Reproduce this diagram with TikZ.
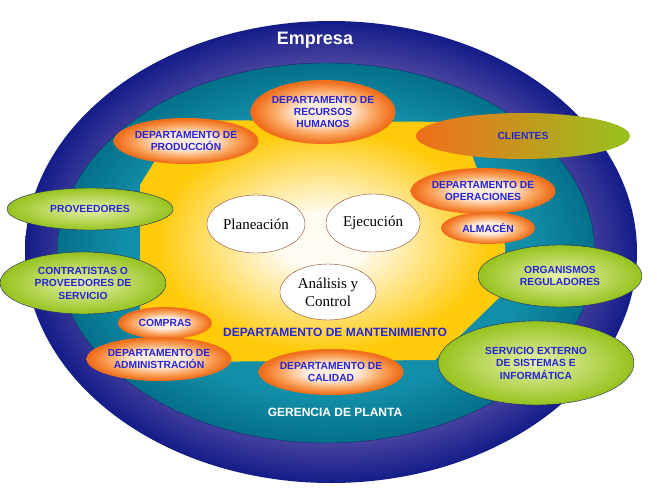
\documentclass[tikz,border=0pt]{standalone}
\usepackage{fontspec}
\setmainfont{Liberation Serif}
\setsansfont{Liberation Sans}
\usetikzlibrary{shapes.geometric, positioning}

\definecolor{ringlight}{RGB}{78,72,162}
\definecolor{ringdark}{RGB}{20,28,136}
\definecolor{teallight}{RGB}{18,142,168}
\definecolor{tealdark}{RGB}{4,112,138}
\definecolor{gold}{RGB}{255,202,8}
\definecolor{cream}{RGB}{255,251,240}
\definecolor{orglight}{RGB}{255,236,222}
\definecolor{orgmid}{RGB}{250,168,98}
\definecolor{orgedge}{RGB}{240,110,28}
\definecolor{grnlight}{RGB}{232,242,172}
\definecolor{grnedge}{RGB}{150,195,30}
\definecolor{navyline}{RGB}{30,36,110}
\definecolor{textblue}{RGB}{38,38,215}
\definecolor{brownline}{RGB}{140,70,40}

% the path edge sits at 25bp of a shading
\pgfdeclareradialshading{ringshade}{\pgfpoint{0bp}{0bp}}{color(0bp)=(ringlight); color(20bp)=(ringlight); color(25bp)=(ringdark); color(50bp)=(ringdark)}
\pgfdeclareradialshading{tealshade}{\pgfpoint{0bp}{0bp}}{color(0bp)=(teallight); color(19bp)=(teallight); color(25bp)=(tealdark); color(50bp)=(tealdark)}
\pgfdeclareradialshading{glowshade}{\pgfpoint{0bp}{0bp}}{color(0bp)=(cream); color(6bp)=(cream); color(23bp)=(gold); color(50bp)=(gold)}
\pgfdeclareradialshading{orangeball}{\pgfpoint{0bp}{0bp}}{color(0bp)=(orglight); color(9bp)=(orglight); color(17bp)=(orgmid); color(24bp)=(orgedge); color(50bp)=(orgedge)}
\pgfdeclareradialshading{greenball}{\pgfpoint{0bp}{0bp}}{color(0bp)=(grnlight); color(25bp)=(grnedge); color(50bp)=(grnedge)}

\begin{document}
\begin{tikzpicture}[x=1pt, y=-1pt,
    dept/.style={ellipse, shade, shading=orangeball, inner sep=0pt, align=center,
        text=textblue, font=\sffamily\bfseries\fontsize{10.3}{12}\selectfont},
    extern/.style={ellipse, shade, shading=greenball, draw=navyline, thin, inner sep=0pt,
        align=center, text=textblue, font=\sffamily\bfseries\fontsize{10.3}{12.5}\selectfont},
    task/.style={ellipse, draw=brownline, fill=white, inner sep=0pt, align=center,
        font=\fontsize{15}{18}\selectfont},
    zone/.style={font=\sffamily\bfseries\fontsize{12}{14}\selectfont}]

\useasboundingbox[fill=white] (0,0) rectangle (657,493);

% Empresa ring
\shade[shading=ringshade] (331,252) ellipse [x radius=306pt, y radius=231pt];

% Gerencia de planta
\shade[shading=tealshade, draw=navyline, thin] (326,253) ellipse [x radius=269pt, y radius=190pt];

% Mantenimiento area
\shade[shading=glowshade] (180,120) -- (460,122) -- (505,245) -- (505,292)
    -- (435,360) -- (175,362) -- (140,310) -- (140,185) -- cycle;

% Zone labels
\node[zone, text=white, font=\sffamily\bfseries\fontsize{18}{20}\selectfont] (empresa) at (315,40) {Empresa};
\node[zone, text=textblue] (mantenimiento) at (335,332) {DEPARTAMENTO DE MANTENIMIENTO};
\node[zone, text=white] (gerencia) at (335,412) {GERENCIA DE PLANTA};

% Tasks
\node[task, minimum width=98pt, minimum height=58pt] (planeacion) at (256,224) {Planeación};
\node[task, minimum width=94pt, minimum height=58pt] (ejecucion) at (373,223) {Ejecución};
\node[task, minimum width=96pt, minimum height=56pt] (analisis) at (328,292) {Análisis y\\Control};

% Departments
\node[dept, minimum width=126pt, minimum height=64pt] (rrhh) at (323,112) {DEPARTAMENTO DE\\RECURSOS\\HUMANOS};
\node[dept, minimum width=132pt, minimum height=46pt] (produccion) at (186,141) {DEPARTAMENTO DE\\PRODUCCIÓN};
\node[dept, minimum width=128pt, minimum height=46pt] (operaciones) at (483,191) {DEPARTAMENTO DE\\OPERACIONES};
\node[dept, minimum width=94pt, minimum height=32pt] (almacen) at (488,228) {ALMACÉN};
\node[dept, minimum width=94pt, minimum height=32pt] (compras) at (165,323) {COMPRAS};
\node[dept, minimum width=128pt, minimum height=44pt] (administracion) at (159,359) {DEPARTAMENTO DE\\ADMINISTRACIÓN};
\node[dept, minimum width=126pt, minimum height=46pt] (calidad) at (331,372) {DEPARTAMENTO DE\\CALIDAD};

% Outside parties
\node[ellipse, left color=orgedge, right color=grnedge, inner sep=0pt, text=textblue,
    font=\sffamily\bfseries\fontsize{10.3}{12}\selectfont,
    minimum width=214pt, minimum height=46pt] (clientes) at (523,136) {CLIENTES};
\node[extern, minimum width=166pt, minimum height=42pt] (proveedores) at (90,209) {PROVEEDORES};
\node[extern, minimum width=166pt, minimum height=62pt] (contratistas) at (83,283) {CONTRATISTAS O\\PROVEEDORES DE\\SERVICIO};
\node[extern, minimum width=164pt, minimum height=62pt] (organismos) at (560,276) {ORGANISMOS\\REGULADORES};
\node[extern, minimum width=196pt, minimum height=84pt] (servicio) at (536,363) {SERVICIO EXTERNO\\DE SISTEMAS E\\INFORMÁTICA};

\end{tikzpicture}
\end{document}
